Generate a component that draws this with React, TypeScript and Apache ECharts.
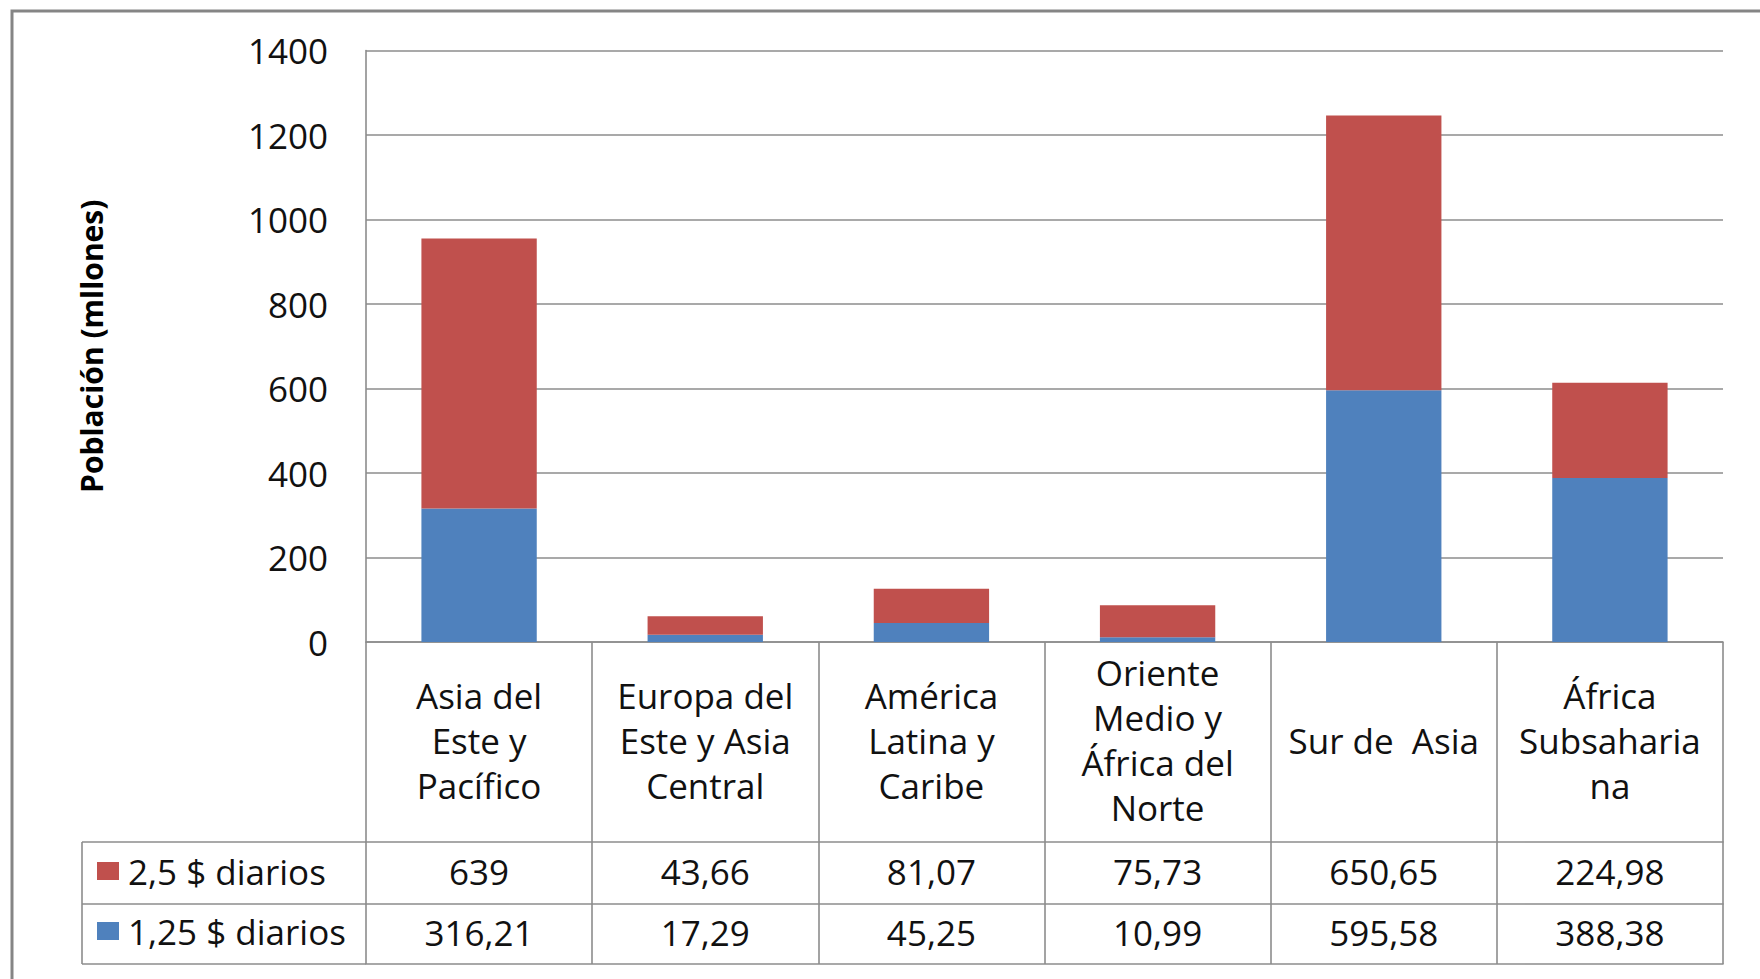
import React, { useEffect, useRef } from "react";
import * as echarts from "echarts";

const categories = [
  "Asia del\nEste y\nPacífico",
  "Europa del\nEste y Asia\nCentral",
  "América\nLatina y\nCaribe",
  "Oriente\nMedio y\nÁfrica del\nNorte",
  "Sur de  Asia",
  "África\nSubsaharia\nna",
];
const seriesHighName = "2,5 $ diarios";
const seriesLowName = "1,25 $ diarios";
const valuesHigh = [639, 43.66, 81.07, 75.73, 650.65, 224.98];
const valuesLow = [316.21, 17.29, 45.25, 10.99, 595.58, 388.38];
const yMin = 0;
const yMax = 1400;
const yInterval = 200;
const yTitle = "Población (mllones)";

const FONT = "'Open Sans', 'Noto Sans', sans-serif";
const GRID_COLOR = "#8c8c8c";
const RED = "#C0504D";
const BLUE = "#4F81BD";
const FS = 35;

const fmt = (v: number) => String(v).replace(".", ",");

export default function App() {
  const ref = useRef<HTMLDivElement>(null);
  useEffect(() => {
    document.body.style.margin = "0";
    const chart = echarts.init(ref.current!, null, { renderer: "svg" });
    const gridLeft = 366;
    const gridRight = 1723;
    const gridTop = 50.5;
    const gridBottom = 642;
    const row1 = 842;
    const row2 = 904;
    const row3 = 964;
    const legendLeft = 82;
    const lineStyle = { color: GRID_COLOR, width: 1.6 };
    const tableLines = [row1, row2, row3].map((y) => ({
      type: "line",
      shape: { x1: legendLeft, y1: y, x2: gridLeft, y2: y },
      style: { stroke: GRID_COLOR, lineWidth: 1.6 },
    }));
    chart.setOption({
      animation: false,
      backgroundColor: "#fff",
      textStyle: { fontFamily: FONT },
      grid: {
        left: gridLeft,
        right: 1760 - gridRight,
        top: gridTop,
        bottom: 979 - gridBottom,
        containLabel: false,
      },
      legend: {
        orient: "vertical",
        left: 97,
        top: 851,
        padding: 0,
        itemGap: 20,
        itemWidth: 22,
        itemHeight: 18,
        icon: "rect",
        data: [seriesHighName, seriesLowName],
        textStyle: {
          fontFamily: FONT,
          fontSize: FS,
          color: "#111",
          lineHeight: 40,
          padding: [0, 0, 0, 4],
        },
      },
      xAxis: [
        {
          type: "category",
          data: categories,
          gridIndex: 0,
          position: "bottom",
          axisLine: { show: true, lineStyle },
          axisTick: { show: true, length: row1 - gridBottom, interval: 0, alignWithLabel: false, lineStyle },
          axisLabel: {
            interval: 0,
            margin: 98,
            verticalAlign: "middle",
            fontFamily: FONT,
            fontSize: FS,
            lineHeight: 45,
            color: "#111",
            align: "center",
          },
        },
        {
          type: "category",
          data: valuesHigh.map(fmt),
          gridIndex: 0,
          position: "bottom",
          offset: row1 - gridBottom,
          axisLine: { show: true, lineStyle },
          axisTick: { show: true, length: row2 - row1, interval: 0, alignWithLabel: false, lineStyle },
          axisLabel: {
            interval: 0,
            margin: 29,
            verticalAlign: "middle",
            fontFamily: FONT,
            fontSize: FS,
            color: "#111",
          },
        },
        {
          type: "category",
          data: valuesLow.map(fmt),
          gridIndex: 0,
          position: "bottom",
          offset: row2 - gridBottom,
          axisLine: { show: true, lineStyle },
          axisTick: { show: true, length: row3 - row2, interval: 0, alignWithLabel: false, lineStyle },
          axisLabel: {
            interval: 0,
            margin: 28,
            verticalAlign: "middle",
            fontFamily: FONT,
            fontSize: FS,
            color: "#111",
          },
        },
        {
          type: "category",
          data: categories.map(() => ""),
          gridIndex: 0,
          position: "bottom",
          offset: row3 - gridBottom,
          axisLine: { show: true, lineStyle },
          axisTick: { show: false },
          axisLabel: { show: false },
        },
      ],
      yAxis: {
        type: "value",
        min: yMin,
        max: yMax,
        interval: yInterval,
        name: yTitle,
        nameLocation: "middle",
        nameRotate: 90,
        nameGap: 260,
        nameTextStyle: {
          fontFamily: FONT,
          fontWeight: "bold",
          fontSize: 30,
          color: "#000",
        },
        axisLine: { show: true, lineStyle },
        axisTick: { show: false },
        splitLine: { show: true, lineStyle },
        axisLabel: {
          margin: 38,
          fontFamily: FONT,
          fontSize: FS,
          color: "#111",
          formatter: (v: number) => String(v),
        },
      },
      series: [
        {
          name: seriesLowName,
          type: "bar",
          stack: "total",
          xAxisIndex: 0,
          data: valuesLow,
          barWidth: "51%",
          itemStyle: { color: BLUE },
        },
        {
          name: seriesHighName,
          type: "bar",
          stack: "total",
          xAxisIndex: 0,
          data: valuesHigh,
          barWidth: "51%",
          itemStyle: { color: RED },
        },
      ],
      graphic: [
        {
          type: "rect",
          shape: { x: 12, y: 11, width: 1800, height: 1000 },
          style: { fill: "none", stroke: "#858585", lineWidth: 3 },
        },
        ...tableLines,
        {
          type: "line",
          shape: { x1: legendLeft, y1: row1, x2: legendLeft, y2: row3 },
          style: { stroke: GRID_COLOR, lineWidth: 1.6 },
        },
      ],
    });
    return () => chart.dispose();
  }, []);
  return <div ref={ref} style={{ width: 1760, height: 979 }} />;
}
